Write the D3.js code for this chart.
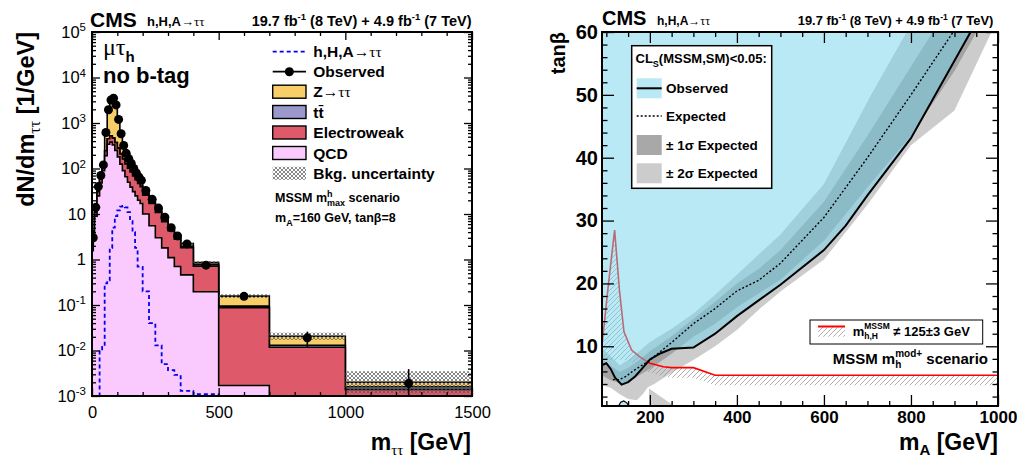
<!DOCTYPE html>
<html><head><meta charset="utf-8">
<script src="https://cdn.jsdelivr.net/npm/d3@7"></script>
<style>
body{margin:0;background:#fff}
svg{display:block}
text{font-family:"Liberation Sans",Arial,Helvetica,sans-serif;white-space:pre}
</style>
</head><body>
<svg id="c" width="1017" height="461"></svg>
<script>
// ---------------- LEFT PANEL DATA (m_tautau distribution) ----------------
const massEdges = [0,10,20,30,40,50,60,70,80,90,100,110,120,130,140,150,160,170,180,190,200,225,250,275,300,325,350,400,500,700,1000,1500];
const obsVals  = [3,14,40,70,120,620,1950,3200,3500,2500,1200,580,320,215,165,130,100,80,65,55,33,21,13.5,8.5,5,3.3,2.2,0.75,0.155,0.019,0.0019];
const obsErr   = [1.5,1.2,2,2.6,3.5,8,14,18,19,16,11,7.6,5.7,4.6,4,3.6,3.2,2.8,2.5,2.3,1.2,0.9,0.7,0.6,0.45,0.36,0.2,0.08,0.02,0.007,0.002];
const qcdVals  = [3,9,25,48,90,190,340,380,330,250,180,125,90,66,50,39,31,25,20,17,10,5.5,3.0,1.8,1.1,0.7,0.46,0.195,0.0017,0.0003,0.0001];
const ewkVals  = [0.5,2,6,12,22,55,110,140,135,120,100,85,72,60,52,45,38,32,27,23,16,11.5,7.8,5.0,3.2,2.1,1.35,0.52,0.085,0.0115,0.0013];
const ttVals   = [0.01,0.05,0.2,0.4,0.7,1.2,2,2.5,2.8,3,3,3,2.8,2.6,2.4,2.2,2,1.8,1.6,1.4,1.1,0.85,0.62,0.45,0.32,0.22,0.14,0.06,0.008,0.0012,0.0002];
const zttVals  = [0.3,1.5,5,10,15,370,1500,2700,3000,2150,950,380,160,90,60,45,33,25,19,15,6,3,1.6,1.0,0.6,0.4,0.3,0.08,0.062,0.0075,0.0004];
const sigVals  = [0.0005,0.0005,0.0005,0.01,0.012,0.3,0.35,1.8,5,9,12,14.5,15,14,11,7,4,1.8,0.7,0.69,0.2,0.04,0.013,0.005,0.0037,0.0029,0.0013,0.0011,0.0005,0.0005,0.0005];
const bkgUnc   = [0.06,0.06,0.06,0.06,0.06,0.06,0.06,0.06,0.06,0.06,0.06,0.06,0.06,0.06,0.06,0.06,0.06,0.06,0.06,0.06,0.07,0.07,0.07,0.07,0.07,0.07,0.07,0.08,0.1,0.2,0.75];
const logExps  = [-3,-2,-1,0,1,2,3,4,5];
const xTicksL  = [0,500,1000,1500];

// ---------------- RIGHT PANEL DATA (tan beta exclusion) ----------------
const obsM = [90,100,110,120,135,150,166,180,200,225,250,300,350,400,450,500,600,650,700,800,937,1000];
const obsT = [7.0,7.3,6.4,5.0,3.9,4.3,5.2,6.3,7.9,8.9,9.6,9.8,12.0,14.8,17.3,19.8,25.3,29.2,34.0,43.1,60,68.5];
const expM = [115,130,145,160,200,250,300,350,400,450,500,600,700,800,900];
const expT = [4.7,4.7,5.2,6.0,7.8,10.6,13.6,16.0,18.8,20.5,23.2,30.5,40.0,50.0,60.3];
const s2UpM = [90,110,131,150,170,200,250,300,350,400,453,500,600,706,790];
const s2UpT = [9.6,8.4,7.0,7.8,8.9,10.7,12.8,15.2,18.2,21.4,24.8,27.8,35.8,49.7,60];
const s1UpM = [90,110,131,150,170,200,250,300,350,400,450,500,600,700,800,850];
const s1UpT = [8.0,6.9,5.9,6.6,7.5,9.2,11.6,14.4,17.1,20.0,22.3,25.3,33.0,43.5,54.5,60];
const s1DnM = [90,110,131,150,200,250,300,350,400,450,500,600,700,800,900,951];
const s1DnT = [5.4,4.6,4.1,4.3,6.4,8.8,11.5,13.6,16.2,18.4,20.6,26.8,35.3,43.5,53.8,60];
const s2DnM = [90,110,130,150,170,185,195,210,250,300,350,400,450,500,600,700,800,900,985];
const s2DnT = [3.8,3.4,2.4,1.6,1.4,2.5,3.5,4.0,5.8,7.8,10.0,12.6,15.8,18.7,23.8,32.5,42.0,47.5,60];
const redM = [90,105,119,130,140.5,158,177,200,231,250,300,350,1000];
const redT = [10.2,20,28.5,19,12.3,9.4,8.3,7.3,6.75,6.6,6.6,5.4,5.4];
const hatchM = [1000,350,300,250,231,200,177,158,140.5,90];
const hatchT = [3.8,3.8,5.0,5.0,5.2,5.8,6.8,7.5,7.8,7.8];
const islandM = [128,133,140,147,152];
const islandT = [0.5,1.1,1.3,1.0,0.5];
const grayTriM = [198,198,256];
const grayTriT = [0.5,3.3,0.5];
const xTicksR = [200,400,600,800,1000];
const yTicksR = [10,20,30,40,50,60];

// ---------------- helpers ----------------
const svg = d3.select('#c');
const SERIF = '"Liberation Serif","DejaVu Serif",serif';
const defs = svg.append('defs');
const px = defs.append('pattern').attr('id','xhatch').attr('patternUnits','userSpaceOnUse').attr('width',4).attr('height',4);
px.append('path').attr('d','M0,0L4,4M4,0L0,4').attr('stroke','#555').attr('stroke-width',0.7);
const pd = defs.append('pattern').attr('id','dhatch').attr('patternUnits','userSpaceOnUse').attr('width',5).attr('height',5);
pd.append('path').attr('d','M0,5L5,0M-1,1L1,-1M4,6L6,4').attr('stroke','#9a9a9a').attr('stroke-width',0.8);

function rich(parent, x, y, segs, opt={}) {
  const g = parent.append('g');
  const inner = g.append('g');
  let cx = 0;
  segs.forEach(s => {
    if (s.stack) {
      const a = inner.append('text').attr('x',cx).attr('y',s.supDy).style('font-size',s.size+'px').style('font-weight',s.weight||'bold').text(s.sup);
      const b = inner.append('text').attr('x',cx).attr('y',s.subDy).style('font-size',s.size+'px').style('font-weight',s.weight||'bold').text(s.sub);
      cx += Math.max(a.node().getComputedTextLength(), b.node().getComputedTextLength());
    } else {
      const t = inner.append('text').attr('x',cx).attr('y',s.dy||0).style('font-size',s.size+'px').style('font-weight',s.weight||'bold').text(s.text);
      if (s.family) t.style('font-family', s.family);
      cx += t.node().getComputedTextLength();
    }
  });
  const shift = opt.anchor==='end' ? -cx : (opt.anchor==='middle' ? -cx/2 : 0);
  inner.attr('transform',`translate(${shift},0)`);
  g.attr('transform',`translate(${x},${y})` + (opt.rotate ? ` rotate(${opt.rotate})` : ''));
  return g;
}
const zip = (a,b) => a.map((v,i)=>[v,b[i]]);

// =================== LEFT PANEL ===================
const L = {x0:92, x1:472, y0:32, y1:396};
const xL = d3.scaleLinear().domain([0,1500]).range([L.x0,L.x1]);
const yL = d3.scaleLog().domain([1e-3,1e5]).range([L.y1,L.y0]).clamp(true);
defs.append('clipPath').attr('id','clipL').append('rect').attr('x',L.x0).attr('y',L.y0).attr('width',L.x1-L.x0).attr('height',L.y1-L.y0);
const gL = svg.append('g');
const plotL = gL.append('g').attr('clip-path','url(#clipL)');

const c1 = qcdVals.slice();
const c2 = c1.map((v,i)=>v+ewkVals[i]);
const c3 = c2.map((v,i)=>v+ttVals[i]);
const c4 = c3.map((v,i)=>v+zttVals[i]);
function stepPts(vals){ const p=[]; vals.forEach((v,i)=>{p.push([massEdges[i],v]);p.push([massEdges[i+1],v]);}); return p; }
const areaL = d3.area().x(d=>xL(d[0])).y0(L.y1).y1(d=>yL(d[1]));
const lineL = d3.line().x(d=>xL(d[0])).y(d=>yL(d[1]));
const stackDef = [[c4,'#f8ce68'],[c3,'#9b98cc'],[c2,'#de5a6a'],[c1,'#facaff']];
stackDef.forEach(([vals,col])=>{
  const pts = stepPts(vals);
  plotL.append('path').attr('d',areaL(pts)).attr('fill',col);
  plotL.append('path').attr('d',lineL(pts)).attr('fill','none').attr('stroke','#000').attr('stroke-width',1.6);
});
plotL.selectAll('rect.unc').data(c4).enter().append('rect')
  .attr('x',(d,i)=>xL(massEdges[i])).attr('width',(d,i)=>xL(massEdges[i+1])-xL(massEdges[i]))
  .attr('y',(d,i)=>yL(d*(1+bkgUnc[i]))).attr('height',(d,i)=>yL(d/(1+bkgUnc[i]))-yL(d*(1+bkgUnc[i])))
  .attr('fill','url(#xhatch)');
plotL.append('path').attr('d',lineL(stepPts(sigVals))).attr('fill','none').attr('stroke','#0000ee').attr('stroke-width',1.8).attr('stroke-dasharray','4,3');
const centers = obsVals.map((v,i)=>(massEdges[i]+massEdges[i+1])/2);
plotL.selectAll('line.err').data(obsVals).enter().append('line')
  .attr('x1',(d,i)=>xL(centers[i])).attr('x2',(d,i)=>xL(centers[i]))
  .attr('y1',(d,i)=>yL(d+obsErr[i])).attr('y2',(d,i)=>yL(Math.max(d-obsErr[i],1e-4)))
  .attr('stroke','#000').attr('stroke-width',1.6);
plotL.selectAll('circle.obs').data(obsVals).enter().append('circle')
  .attr('cx',(d,i)=>xL(centers[i])).attr('cy',d=>yL(d)).attr('r',4.5).attr('fill','#000');

function styleAxis(g, size, weight){ g.select('.domain').remove(); g.selectAll('line').attr('stroke','#000').attr('stroke-width',1.3);
  g.attr('font-family','"Liberation Sans",Arial,sans-serif').attr('font-size',size).attr('font-weight',weight||'normal'); g.selectAll('text').attr('fill','#000'); }
const minorLog = [];
for (let e=-3;e<5;e++) for (let k=2;k<10;k++) minorLog.push(k*Math.pow(10,e));
const minorXL = d3.range(100,1500,100).filter(v=>v%500!==0);
gL.append('g').attr('transform',`translate(0,${L.y1})`).call(d3.axisBottom(xL).tickValues(xTicksL).tickSize(-8).tickPadding(10.6).tickFormat(d3.format('d'))).call(g=>styleAxis(g,16.5));
gL.append('g').attr('transform',`translate(0,${L.y1})`).call(d3.axisBottom(xL).tickValues(minorXL).tickSize(-4).tickFormat('')).call(g=>styleAxis(g,10));
gL.append('g').attr('transform',`translate(0,${L.y0})`).call(d3.axisTop(xL).tickValues(xTicksL).tickSize(-8).tickFormat('')).call(g=>styleAxis(g,10));
gL.append('g').attr('transform',`translate(0,${L.y0})`).call(d3.axisTop(xL).tickValues(minorXL).tickSize(-4).tickFormat('')).call(g=>styleAxis(g,10));
const majLog = logExps.map(e=>Math.pow(10,e));
const yAxL = gL.append('g').attr('transform',`translate(${L.x0},0)`).call(d3.axisLeft(yL).tickValues(majLog).tickSize(-8).tickPadding(6).tickFormat(d=>d)).call(g=>styleAxis(g,16.5));
yAxL.selectAll('.tick text').each(function(d,i){
  const e = logExps[i]; const t = d3.select(this); t.text('');
  if (e===0) { t.text('1'); return; }
  if (e===1) { t.text('10'); return; }
  t.append('tspan').text('10');
  t.append('tspan').attr('dy','-0.55em').style('font-size','11.5px').text(String(e));
});
gL.append('g').attr('transform',`translate(${L.x0},0)`).call(d3.axisLeft(yL).tickValues(minorLog).tickSize(-4).tickFormat('')).call(g=>styleAxis(g,10));
gL.append('g').attr('transform',`translate(${L.x1},0)`).call(d3.axisRight(yL).tickValues(majLog).tickSize(-8).tickFormat('')).call(g=>styleAxis(g,10));
gL.append('g').attr('transform',`translate(${L.x1},0)`).call(d3.axisRight(yL).tickValues(minorLog).tickSize(-4).tickFormat('')).call(g=>styleAxis(g,10));
gL.append('rect').attr('x',L.x0).attr('y',L.y0).attr('width',L.x1-L.x0).attr('height',L.y1-L.y0).attr('fill','none').attr('stroke','#000').attr('stroke-width',2);

rich(gL, 90, 26.5, [{text:'CMS',size:21}]);
rich(gL, 147, 26, [{text:'h,H,A',size:13},{text:'→ττ',size:13,weight:'normal',family:SERIF}]);
rich(gL, 471.5, 26, [{text:'19.7 fb',size:14.5},{text:'-1',size:9.5,dy:-6},{text:' (8 TeV) + 4.9 fb',size:14.5},{text:'-1',size:9.5,dy:-6},{text:' (7 TeV)',size:14.5}], {anchor:'end'});
rich(gL, 103, 55, [{text:'μτ',size:24,weight:'normal',family:SERIF},{text:'h',size:15,dy:7}]);
rich(gL, 103, 83, [{text:'no b-tag',size:22}]);
rich(gL, 34, 32, [{text:'dN/dm',size:23.5},{text:'ττ',size:16,weight:'normal',family:SERIF,dy:6},{text:' [1/GeV]',size:23.5}], {anchor:'end',rotate:-90});
rich(gL, 471, 450, [{text:'m',size:23},{text:'ττ',size:15,weight:'normal',family:SERIF,dy:5},{text:' [GeV]',size:23}], {anchor:'end'});

const legL = gL.append('g');
const lx0 = 272.7, lw = 33.3, ltx = 313.3, lfs = 15.5;
const legYs = [51.7,71.7,91.7,112,132.5,153,173.3];
legL.append('line').attr('x1',lx0).attr('x2',lx0+lw).attr('y1',legYs[0]).attr('y2',legYs[0]).attr('stroke','#0000ee').attr('stroke-width',1.8).attr('stroke-dasharray','4,3');
rich(legL, ltx, legYs[0]+5.5, [{text:'h,H,A',size:lfs},{text:'→ττ',size:lfs,weight:'normal',family:SERIF}]);
legL.append('line').attr('x1',lx0).attr('x2',lx0+lw).attr('y1',legYs[1]).attr('y2',legYs[1]).attr('stroke','#000').attr('stroke-width',1.8);
legL.append('circle').attr('cx',lx0+lw/2).attr('cy',legYs[1]).attr('r',4.5).attr('fill','#000');
rich(legL, ltx, legYs[1]+5.5, [{text:'Observed',size:lfs}]);
const boxes = [['#f8ce68',[{text:'Z',size:lfs},{text:'→ττ',size:lfs,weight:'normal',family:SERIF}]],
               ['#9b98cc',[{text:'tt̄',size:lfs}]],
               ['#de5a6a',[{text:'Electroweak',size:lfs}]],
               ['#facaff',[{text:'QCD',size:lfs}]]];
boxes.forEach(([col,segs],i)=>{
  const yy = legYs[i+2];
  legL.append('rect').attr('x',lx0).attr('y',yy-6.5).attr('width',lw).attr('height',13).attr('fill',col).attr('stroke','#000').attr('stroke-width',1.4);
  rich(legL, ltx, yy+5.5, segs);
});
legL.append('rect').attr('x',lx0).attr('y',legYs[6]-6.5).attr('width',lw).attr('height',13).attr('fill','url(#xhatch)');
rich(legL, ltx, legYs[6]+5.5, [{text:'Bkg. uncertainty',size:lfs}]);
rich(legL, 275, 202, [{text:'MSSM m',size:12.5},{stack:true,sup:'h',sub:'max',size:9,supDy:-5,subDy:3.5},{text:' scenario',size:12.5}]);
rich(legL, 275, 222, [{text:'m',size:12.5},{text:'A',size:9,dy:3.5},{text:'=160 GeV, tanβ=8',size:12.5}]);

// =================== RIGHT PANEL ===================
const R = {x0:602, x1:998, y0:32, y1:406};
const xR = d3.scaleLinear().domain([90,1000]).range([R.x0,R.x1]);
const yR = d3.scaleLinear().domain([0.5,60]).range([R.y1,R.y0]);
defs.append('clipPath').attr('id','clipR').append('rect').attr('x',R.x0).attr('y',R.y0).attr('width',R.x1-R.x0).attr('height',R.y1-R.y0);
const gR = svg.append('g');
const plotR = gR.append('g').attr('clip-path','url(#clipR)');
const lineR = d3.line().x(d=>xR(d[0])).y(d=>yR(d[1]));
const poly = pts => lineR(pts)+'Z';

const band2 = zip(s2UpM,s2UpT).concat(zip(s2DnM,s2DnT).reverse());
const band1 = zip(s1UpM,s1UpT).concat(zip(s1DnM,s1DnT).reverse());
plotR.append('path').attr('d',poly(band2)).attr('fill','#cccccc');
plotR.append('path').attr('d',poly(zip(grayTriM,grayTriT))).attr('fill','#cccccc');
plotR.append('path').attr('d',poly(band1)).attr('fill','#a3a3a3');
plotR.append('path').attr('d',poly(zip(redM,redT).concat(zip(hatchM,hatchT)))).attr('fill','url(#dhatch)');
plotR.append('path').attr('d',lineR(zip(redM,redT))).attr('fill','none').attr('stroke','#ff0000').attr('stroke-width',1.6);
const excl = zip(obsM,obsT).concat([[1000,75],[90,75]]);
plotR.append('path').attr('d',poly(excl)).attr('fill','rgb(117,211,237)').attr('fill-opacity',0.5);
plotR.append('path').attr('d',poly(zip(islandM,islandT))).attr('fill','rgb(117,211,237)').attr('fill-opacity',0.5).attr('stroke','#000').attr('stroke-width',1.2);
plotR.append('path').attr('d',lineR(zip(expM,expT))).attr('fill','none').attr('stroke','#000').attr('stroke-width',1.4).attr('stroke-dasharray','2,2');
plotR.append('path').attr('d',lineR(zip(obsM,obsT))).attr('fill','none').attr('stroke','#000').attr('stroke-width',2);

const minorXR = d3.range(100,1001,50).filter(v=>v%200!==0);
const minorYR = d3.range(2,60,2).filter(v=>v%10!==0);
gR.append('g').attr('transform',`translate(0,${R.y1})`).call(d3.axisBottom(xR).tickValues(xTicksR).tickSize(-11).tickPadding(5.4).tickFormat(d3.format('d'))).call(g=>styleAxis(g,17,'bold'));
gR.append('g').attr('transform',`translate(0,${R.y1})`).call(d3.axisBottom(xR).tickValues(minorXR).tickSize(-5).tickFormat('')).call(g=>styleAxis(g,10));
gR.append('g').attr('transform',`translate(0,${R.y0})`).call(d3.axisTop(xR).tickValues(xTicksR).tickSize(-11).tickFormat('')).call(g=>styleAxis(g,10));
gR.append('g').attr('transform',`translate(0,${R.y0})`).call(d3.axisTop(xR).tickValues(minorXR).tickSize(-5).tickFormat('')).call(g=>styleAxis(g,10));
gR.append('g').attr('transform',`translate(${R.x0},0)`).call(d3.axisLeft(yR).tickValues(yTicksR).tickSize(-12).tickPadding(4).tickFormat(d3.format('d'))).call(g=>styleAxis(g,20,'bold'));
gR.append('g').attr('transform',`translate(${R.x0},0)`).call(d3.axisLeft(yR).tickValues(minorYR).tickSize(-5.5).tickFormat('')).call(g=>styleAxis(g,10));
gR.append('g').attr('transform',`translate(${R.x1},0)`).call(d3.axisRight(yR).tickValues(yTicksR).tickSize(-12).tickFormat('')).call(g=>styleAxis(g,10));
gR.append('g').attr('transform',`translate(${R.x1},0)`).call(d3.axisRight(yR).tickValues(minorYR).tickSize(-5.5).tickFormat('')).call(g=>styleAxis(g,10));

const lg = gR.append('g');
lg.append('rect').attr('x',631.7).attr('y',45.7).attr('width',140).attr('height',142.6).attr('fill','#fff').attr('stroke','#000').attr('stroke-width',1.5);
rich(lg, 635.5, 63, [{text:'CL',size:13},{text:'S',size:9,dy:4},{text:'(MSSM,SM)<0.05:',size:13}]);
lg.append('rect').attr('x',636.7).attr('y',78.3).attr('width',25).attr('height',20).attr('fill','rgb(186,233,246)');
lg.append('line').attr('x1',636.7).attr('x2',661.7).attr('y1',88.3).attr('y2',88.3).attr('stroke','#000').attr('stroke-width',2);
rich(lg, 666, 93.3, [{text:'Observed',size:13.5}]);
lg.append('line').attr('x1',636.7).attr('x2',661.7).attr('y1',116).attr('y2',116).attr('stroke','#000').attr('stroke-width',1.4).attr('stroke-dasharray','2,2');
rich(lg, 666, 120.5, [{text:'Expected',size:13.5}]);
lg.append('rect').attr('x',636.7).attr('y',135).attr('width',25).attr('height',20).attr('fill','#a8a8a8');
rich(lg, 666, 149.5, [{text:'± 1σ Expected',size:13.5}]);
lg.append('rect').attr('x',636.7).attr('y',163.3).attr('width',25).attr('height',20).attr('fill','#cccccc');
rich(lg, 666, 178, [{text:'± 2σ Expected',size:13.5}]);

lg.append('rect').attr('x',810).attr('y',320).attr('width',172.7).attr('height',24).attr('fill','#fff').attr('stroke','#000').attr('stroke-width',1);
lg.append('rect').attr('x',818).attr('y',327.3).attr('width',27).attr('height',9.4).attr('fill','url(#dhatch)');
lg.append('line').attr('x1',818).attr('x2',845).attr('y1',326.5).attr('y2',326.5).attr('stroke','#ff0000').attr('stroke-width',2);
rich(lg, 852.7, 336, [{text:'m',size:13},{stack:true,sup:'MSSM',sub:'h,H',size:8.5,supDy:-7,subDy:3},{text:' ≠ 125±3 GeV',size:13}]);
rich(gR, 988, 363.5, [{text:'MSSM m',size:15},{stack:true,sup:'mod+',sub:'h',size:10,supDy:-7,subDy:4},{text:' scenario',size:15}], {anchor:'end'});

gR.append('rect').attr('x',R.x0).attr('y',R.y0).attr('width',R.x1-R.x0).attr('height',R.y1-R.y0).attr('fill','none').attr('stroke','#000').attr('stroke-width',2);

rich(gR, 602, 25, [{text:'CMS',size:20}]);
rich(gR, 657, 24.5, [{text:'h,H,A',size:12},{text:'→ττ',size:12,weight:'normal',family:SERIF}]);
rich(gR, 993.3, 25, [{text:'19.7 fb',size:12.9},{text:'-1',size:8.5,dy:-5},{text:' (8 TeV) + 4.9 fb',size:12.9},{text:'-1',size:8.5,dy:-5},{text:' (7 TeV)',size:12.9}], {anchor:'end'});
rich(gR, 565, 32, [{text:'tanβ',size:20}], {anchor:'end',rotate:-90});
rich(gR, 998, 450, [{text:'m',size:23},{text:'A',size:15,dy:5},{text:' [GeV]',size:23}], {anchor:'end'});
</script>
</body></html>
